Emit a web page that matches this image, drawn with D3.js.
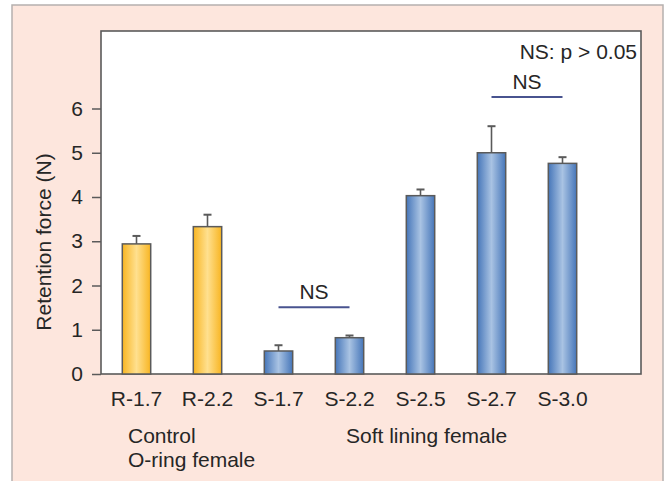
<!DOCTYPE html>
<html>
<head>
<meta charset="utf-8">
<script src="https://cdn.jsdelivr.net/npm/d3@7"></script>
<style>
html,body{margin:0;padding:0;background:#fff;}
svg{display:block;font-family:"Liberation Sans",Arial,sans-serif;}
</style>
</head>
<body>
<svg id="chart" width="666" height="481"></svg>
<script>
const categories = ["R-1.7","R-2.2","S-1.7","S-2.2","S-2.5","S-2.7","S-3.0"];
const groups = ["control","control","soft","soft","soft","soft","soft"];
const means = [2.94, 3.33, 0.52, 0.82, 4.03, 5.00, 4.76];
const errors = [0.18, 0.27, 0.13, 0.05, 0.14, 0.60, 0.14];
const yTicks = [0,1,2,3,4,5,6];
const nsPairs = [["S-1.7","S-2.2",1.51],["S-2.7","S-3.0",6.26]];

const svg = d3.select("#chart");
const W = 666, H = 481;
const plot = {left:101, top:31, right:641, bottom:374};
const FS = 21, TC = "#262626";

// outer panel
svg.append("rect").attr("x",12).attr("y",5).attr("width",651).attr("height",H)
  .attr("fill","#fde6dd").attr("stroke","#b5b0ae").attr("stroke-width",1.5);

const defs = svg.append("defs");
function grad(id, edge, mid){
  const g = defs.append("linearGradient").attr("id",id).attr("x1","0%").attr("x2","100%");
  g.append("stop").attr("offset","0%").attr("stop-color",edge);
  g.append("stop").attr("offset","50%").attr("stop-color",mid);
  g.append("stop").attr("offset","100%").attr("stop-color",edge);
}
grad("gOrange","#f8b522","#ffe08f");
grad("gBlue","#4676b9","#a9c3e3");

const x = d3.scaleBand().domain(categories).range([101,598]).paddingInner(0.6).paddingOuter(0.3);
const y = d3.scaleLinear().domain([0,6]).range([374,108.5]);

// plot box
svg.append("rect").attr("x",plot.left).attr("y",plot.top)
  .attr("width",plot.right-plot.left).attr("height",plot.bottom-plot.top)
  .attr("fill","#fff").attr("stroke","#5a5a5a").attr("stroke-width",1.6);

// y axis
const yAxis = d3.axisLeft(y).tickValues(yTicks).tickSize(9).tickPadding(9).tickFormat(d3.format("d"));
const ya = svg.append("g").attr("transform",`translate(${plot.left},0)`).call(yAxis);
ya.select(".domain").remove();
ya.selectAll("line").attr("stroke","#5a5a5a").attr("stroke-width",1.5);
ya.selectAll("text").attr("font-size",FS).attr("fill",TC).attr("font-family","Liberation Sans, Arial, sans-serif");

// x axis labels
const xAxis = d3.axisBottom(x).tickSize(0).tickPadding(17);
const xa = svg.append("g").attr("transform",`translate(0,${plot.bottom})`).call(xAxis);
xa.select(".domain").remove();
xa.selectAll("text").attr("font-size",FS).attr("fill",TC).attr("font-family","Liberation Sans, Arial, sans-serif");

// bars
const bw = x.bandwidth();
svg.append("g").selectAll("rect").data(categories).join("rect")
  .attr("x",d=>x(d)).attr("width",bw)
  .attr("y",(d,i)=>y(means[i])).attr("height",(d,i)=>y(0)-y(means[i]))
  .attr("fill",(d,i)=>groups[i]==="control"?"url(#gOrange)":"url(#gBlue)")
  .attr("stroke","#5a5a5a").attr("stroke-width",1.5);

// error bars
const eb = svg.append("g").attr("stroke","#5a5a5a").attr("stroke-width",1.6);
categories.forEach((c,i)=>{
  const cx = x(c)+bw/2;
  eb.append("line").attr("x1",cx).attr("x2",cx).attr("y1",y(means[i])).attr("y2",y(means[i]+errors[i]));
  eb.append("line").attr("x1",cx-4).attr("x2",cx+4).attr("y1",y(means[i]+errors[i])).attr("y2",y(means[i]+errors[i])).attr("stroke-width",2);
});

// NS brackets
nsPairs.forEach(([a,b,v])=>{
  const x1 = x(a)+bw/2, x2 = x(b)+bw/2;
  svg.append("line").attr("x1",x1).attr("x2",x2).attr("y1",y(v)).attr("y2",y(v))
    .attr("stroke","#48538f").attr("stroke-width",2);
  svg.append("text").attr("x",(x1+x2)/2).attr("y",y(v)-8).attr("text-anchor","middle")
    .attr("font-size",FS).attr("fill",TC).text("NS");
});

// legend note
svg.append("text").attr("x",637).attr("y",59).attr("text-anchor","end")
  .attr("font-size",FS).attr("fill",TC).text("NS: p > 0.05");

// y title
svg.append("text").attr("transform",`translate(51,242) rotate(-90)`).attr("text-anchor","middle")
  .attr("font-size",FS).attr("fill",TC).text("Retention force (N)");

// group labels
svg.append("text").attr("x",128).attr("y",443).attr("font-size",FS).attr("fill",TC).text("Control");
svg.append("text").attr("x",128).attr("y",467).attr("font-size",FS).attr("fill",TC).text("O-ring female");
svg.append("text").attr("x",346).attr("y",443).attr("font-size",FS).attr("fill",TC).text("Soft lining female");
</script>
</body>
</html>
